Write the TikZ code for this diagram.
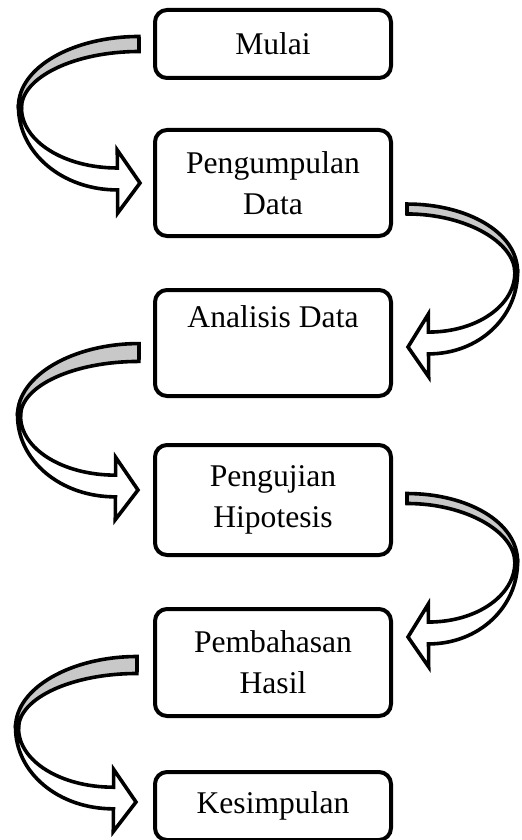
\documentclass[tikz,border=0pt]{standalone}
\usepackage{fontspec}
\setmainfont{Liberation Serif}
\usetikzlibrary{calc}
\definecolor{bandgray}{RGB}{200,200,200}
\tikzset{
  stage/.style={draw, line width=2pt, rounded corners=6pt, minimum width=118pt,
    align=center, font=\fontsize{15.8}{20.5}\selectfont},
  arrowline/.style={draw, line width=1.8pt}
}
% point between tail (ta) and tip (tp), pushed sideways
\newcommand{\bp}[2]{($(ta)!#1!(tp)+({\bfac*(#2)},0)$)}
% #1 tail, #2 tip, #3 side (1 left, negative right), #4 tail half width
\newcommand{\bentarrow}[4]{%
  \coordinate (ta) at (#1);
  \coordinate (tp) at (#2);
  \def\bfac{#3}\def\tw{#4}%
  \filldraw[arrowline, fill=white]
    \bp{0.453}{-121} .. controls \bp{0.783}{-121} and \bp{1.05}{-78} .. \bp{1.05}{-22.5}
    -- \bp{1.216}{-22.5} -- \bp{1}{0} -- \bp{0.763}{-22.5} -- \bp{0.892}{-22.5}
    .. controls \bp{0.892}{-76} and \bp{0.698}{-118} .. \bp{0.46}{-118} -- cycle;
  \filldraw[arrowline, fill=bandgray]
    \bp{-\tw}{0} .. controls \bp{-\tw}{-66} and \bp{0.168}{-121} .. \bp{0.453}{-121}
    -- \bp{0.46}{-118} .. controls \bp{0.242}{-118} and \bp{\tw}{-65} .. \bp{\tw}{0} -- cycle;
}
\begin{document}
\begin{tikzpicture}[x=0.5pt, y=-0.5pt]
  \useasboundingbox (0,0) rectangle (521,840);
  \node[stage, minimum height=34pt] (mulai) at (273,44) {Mulai};
  \node[stage, minimum height=53pt] (kumpul) at (273,183) {Pengumpulan\\Data};
  \node[stage, minimum height=53pt] (analisis) at (273,343) {Analisis Data\\ \strut};
  \node[stage, minimum height=55pt] (uji) at (273,500) {Pengujian\\Hipotesis};
  \node[stage, minimum height=53.5pt] (bahas) at (273,662.5) {Pembahasan\\Hasil};
  \node[stage, minimum height=34pt] (simpul) at (273,806) {Kesimpulan};

  \bentarrow{$(mulai.west)+(-14,0)$}{$(kumpul.west)+(-13,0)$}{1}{0.054}
  \bentarrow{$(kumpul.east)+(14,26)$}{$(analisis.east)+(15,4)$}{-0.91}{0.036}
  \bentarrow{$(analisis.west)+(-14,9.5)$}{$(uji.west)+(-15,-10)$}{1}{0.065}
  \bentarrow{$(uji.east)+(14,-1.5)$}{$(bahas.east)+(15,-25.5)$}{-0.91}{0.036}
  \bentarrow{$(bahas.west)+(-16,2.5)$}{$(simpul.west)+(-17,-4)$}{1}{0.062}
\end{tikzpicture}
\end{document}
